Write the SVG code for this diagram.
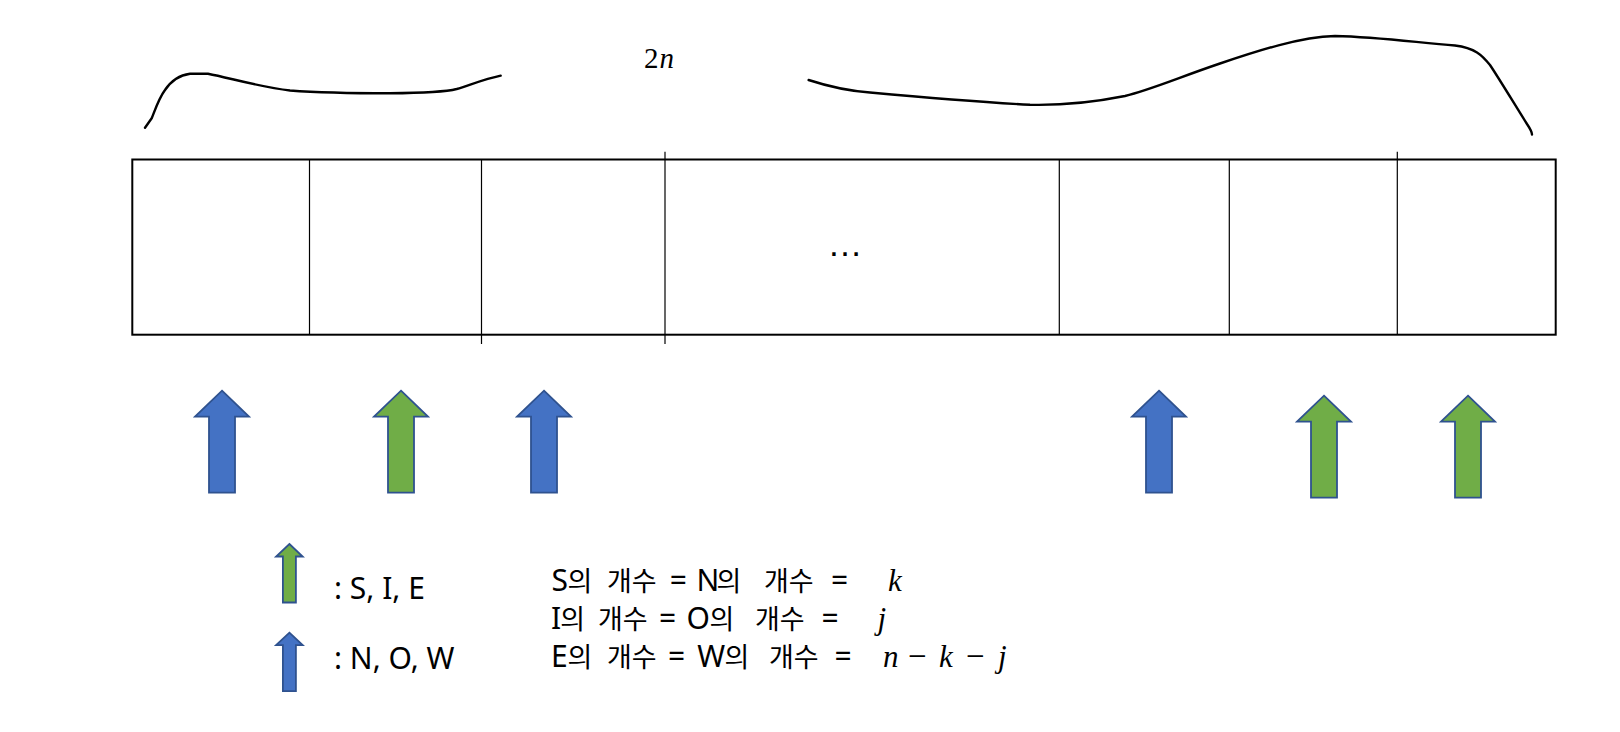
<svg xmlns="http://www.w3.org/2000/svg" width="1620" height="732" viewBox="0 0 1620 732">
<style>
.bg{fill:#ffffff}
.brace{fill:none;stroke:#000;stroke-width:2.4;stroke-linecap:round;stroke-linejoin:round}
.box{fill:none;stroke:#000;stroke-width:2}
.div{stroke:#000;stroke-width:1.2}
.arrB{fill:#4472C4;stroke:#2F528F;stroke-width:1.8}
.arrG{fill:#70AD47;stroke:#2F528F;stroke-width:1.8}
.t{font-family:"Noto Sans","Open Sans","Noto Sans CJK KR",sans-serif;font-size:30px;fill:#000}
.h{font-family:"Noto Sans CJK KR",sans-serif;font-size:27px}
.m{font-family:"Liberation Serif","DejaVu Serif",serif;font-size:31px;font-style:italic;fill:#000}
.mu{font-family:"Liberation Serif","DejaVu Serif",serif;font-style:normal;font-size:33px}
</style>
<defs>
<path id="bigArrow" d="M0,0 L27,26 L13,26 L13,102 L-13,102 L-13,26 L-27,26 Z"/>
<path id="smallArrow" d="M0,0 L13.3,12.5 L6.5,12.5 L6.5,58.5 L-6.5,58.5 L-6.5,12.5 L-13.3,12.5 Z"/>
</defs>
<rect class="bg" x="0" y="0" width="1620" height="732"/>

<g id="brace-left">
<path class="brace" d="M145,127.7 L151.7,118.3 C155,110 159,98 165,90 C171,81 180,75 190,73.7 L208,73.7 C230,78 260,87 290,90.5 C310,92 360,93.3 390,93.3 C420,93 445,92 456.7,89 C470,85 485,79 500.7,75.7"/>
</g>
<g id="label-2n">
<text class="m" x="644" y="68.3" style="font-size:29px"><tspan style="font-style:normal">2</tspan><tspan x="659.5">n</tspan></text>
</g>
<g id="brace-right">
<path class="brace" d="M808.6,80 C830,87 850,91 870,92.5 C920,97 980,102 1030,104.8 C1060,105.5 1090,103 1125,96 C1150,90 1180,77 1220,63.5 C1260,50 1300,37 1335,36 C1380,37 1420,43 1455,45.5 C1475,48 1482,55 1490,65 C1500,80 1515,105 1527,124 C1531,130 1532,133 1532,134.5"/>
</g>

<g id="array">
<rect class="box" x="132.3" y="159.5" width="1423.4" height="175.2"/>
<line class="div" x1="309.5" y1="159.5" x2="309.5" y2="334.7"/>
<line class="div" x1="481.5" y1="159.5" x2="481.5" y2="344"/>
<line class="div" x1="665" y1="151.7" x2="665" y2="344"/>
<line class="div" x1="1059.3" y1="159.5" x2="1059.3" y2="334.7"/>
<line class="div" x1="1229.3" y1="159.5" x2="1229.3" y2="334.7"/>
<line class="div" x1="1397.3" y1="151.7" x2="1397.3" y2="334.7"/>
<text x="827.4" y="255.5" style="font-family:'Liberation Sans',sans-serif;font-size:35px;fill:#000">…</text>
</g>

<g id="arrow-1"><use href="#bigArrow" class="arrB" transform="translate(222,390.7)"/></g>
<g id="arrow-2"><use href="#bigArrow" class="arrG" transform="translate(401,390.7)"/></g>
<g id="arrow-3"><use href="#bigArrow" class="arrB" transform="translate(544,390.7)"/></g>
<g id="arrow-4"><use href="#bigArrow" class="arrB" transform="translate(1159,390.7)"/></g>
<g id="arrow-5"><use href="#bigArrow" class="arrG" transform="translate(1324,395.7)"/></g>
<g id="arrow-6"><use href="#bigArrow" class="arrG" transform="translate(1468,395.7)"/></g>

<g id="legend-green">
<use href="#smallArrow" class="arrG" transform="translate(289.4,544)"/>
<text class="t" x="334" y="599">: S, I, E</text>
</g>
<g id="legend-blue">
<use href="#smallArrow" class="arrB" transform="translate(289.4,632.7)"/>
<text class="t" x="334" y="669.3">: N, O, W</text>
</g>

<g id="equations">
<text class="t" y="590.5"><tspan x="551.5">S</tspan><tspan class="h" x="567.5">의 </tspan><tspan class="h" x="607">개수 </tspan><tspan x="669.7">= </tspan><tspan x="696.5">N</tspan><tspan class="h" x="716.5">의 </tspan><tspan class="h" x="764">개수 </tspan><tspan x="831">= </tspan><tspan class="m" x="888">k</tspan></text>
<text class="t" y="628.5"><tspan x="551.1">I</tspan><tspan class="h" x="560.2">의 </tspan><tspan class="h" x="598">개수 </tspan><tspan x="659">= </tspan><tspan x="686.5">O</tspan><tspan class="h" x="709.5">의 </tspan><tspan class="h" x="755">개수 </tspan><tspan x="821.5">= </tspan><tspan class="m" x="877.5">j</tspan></text>
<text class="t" y="666.5"><tspan x="551.1">E</tspan><tspan class="h" x="567.5">의 </tspan><tspan class="h" x="607">개수 </tspan><tspan x="668">= </tspan><tspan x="697.3">W</tspan><tspan class="h" x="724.5">의 </tspan><tspan class="h" x="769">개수 </tspan><tspan x="834.5">= </tspan><tspan class="m" x="883">n </tspan><tspan class="m mu" x="908">− </tspan><tspan class="m" x="939">k </tspan><tspan class="m mu" x="966">− </tspan><tspan class="m" x="998">j</tspan></text>
</g>
</svg>
